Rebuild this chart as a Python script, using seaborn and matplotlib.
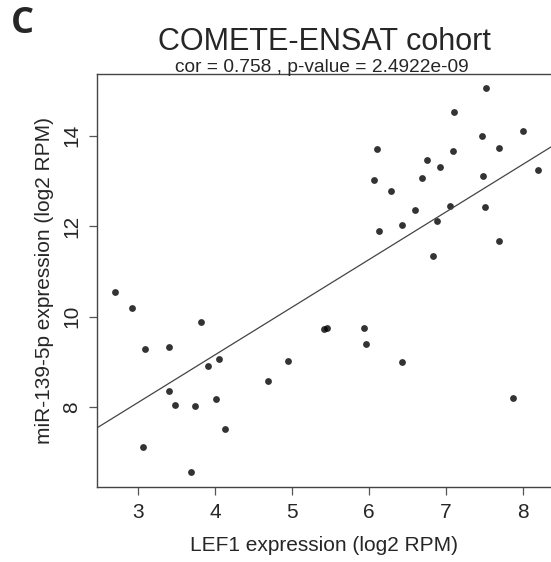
import numpy as np
import pandas as pd
import seaborn as sns
import matplotlib.pyplot as plt

# LEF1 vs miR-139-5p, COMETE-ENSAT cohort
lef1 = [2.69, 2.92, 3.81, 3.08, 3.40, 4.05, 3.90, 4.94, 4.68, 3.40, 3.48,
        3.74, 4.01, 4.13, 3.06, 3.68, 5.41, 5.45, 5.94, 5.96, 6.43, 7.88,
        7.53, 7.11, 8.01, 7.47, 6.10, 7.69, 6.76, 7.10, 6.92, 6.69, 6.07,
        7.48, 8.20, 6.29, 6.60, 7.05, 7.51, 6.43, 6.13, 6.89, 7.69, 6.83]
mir139 = [10.54, 10.20, 9.89, 9.28, 9.33, 9.07, 8.91, 9.02, 8.57, 8.36, 8.04,
          8.02, 8.18, 7.52, 7.13, 6.57, 9.72, 9.75, 9.76, 9.39, 8.99, 8.21,
          15.04, 14.52, 14.10, 13.99, 13.70, 13.73, 13.47, 13.65, 13.30, 13.07, 13.02,
          13.10, 13.25, 12.78, 12.36, 12.44, 12.42, 12.02, 11.89, 12.12, 11.67, 11.33]

df = pd.DataFrame({'LEF1': lef1, 'miR139': mir139})

sns.set_style('white')
plt.rcParams['font.family'] = ['Liberation Sans', 'DejaVu Sans']

fig = plt.figure(figsize=(5.51, 5.62), dpi=100)
ax = fig.add_axes([97 / 551, 1 - 487 / 562, 1 - 97 / 551, (487 - 74) / 562])
ax.set_xlim(2.46, 8.37)
ax.set_ylim(6.24, 15.36)

# scatter + least squares line over the full x range
sns.regplot(data=df, x='LEF1', y='miR139', ax=ax, ci=None, truncate=False,
            scatter_kws={'s': 24, 'color': 'black', 'linewidths': 0},
            line_kws={'color': '#444444', 'linewidth': 0.9})

ax.set_xticks([3, 4, 5, 6, 7, 8])
ax.set_yticks([8, 10, 12, 14])
ax.tick_params(axis='both', bottom=True, left=True, direction='out',
               length=5.8, width=0.9, color='#555555', labelsize=15, pad=5.8)
for lab in ax.get_yticklabels():
    lab.set_rotation(90)
    lab.set_va('center')
for s in ['left', 'bottom', 'top']:
    ax.spines[s].set_color('#444444')
    ax.spines[s].set_linewidth(1.0)
ax.spines['right'].set_visible(False)

ax.set_xlabel('LEF1 expression (log2 RPM)', fontsize=15, labelpad=10)
ax.set_ylabel('miR-139-5p expression (log2 RPM)', fontsize=15, labelpad=6)

fig.text(0.588, 1 - 50 / 562, 'COMETE-ENSAT cohort', fontsize=22,
         ha='center', va='baseline')
fig.text(0.584, 1 - 72 / 562, 'cor = 0.758 , p-value = 2.4922e-09', fontsize=13.8,
         ha='center', va='baseline')
fig.text(0.02, 0.957, 'C', fontsize=26, fontweight='bold', family='Open Sans',
         ha='left', va='center')

fig.savefig('out.png', dpi=100)
